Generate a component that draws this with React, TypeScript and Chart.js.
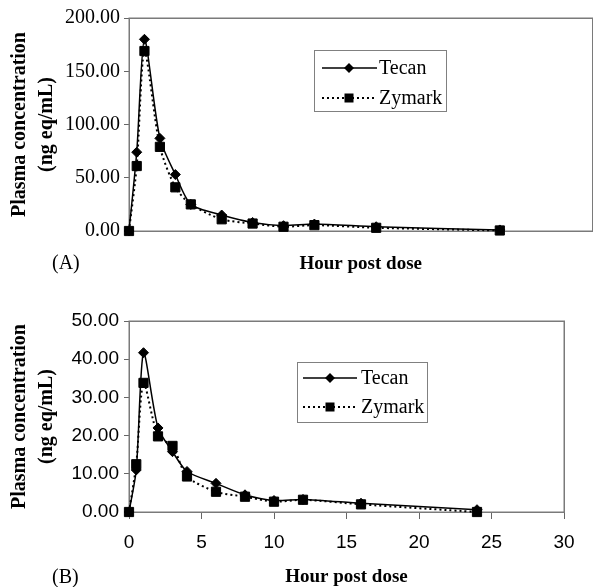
import React, { useEffect, useRef } from "react";
import { Chart, registerables } from "chart.js";

Chart.register(...registerables);

const hours = [0, 0.5, 1, 2, 3, 4, 6, 8, 10, 12, 16, 24];
const tecanA = [0, 74, 180, 87, 53, 25, 15, 8, 5, 6.5, 4, 1];
const zymarkA = [0, 61, 169, 79, 41, 25, 11, 7, 4, 5.5, 3, 0.5];
const tecanB = [0, 11, 41.7, 22, 15.8, 10.6, 7.5, 4.5, 3, 3.3, 2.3, 0.6];
const zymarkB = [0, 12.5, 33.8, 19.8, 17.3, 9.3, 5.3, 4, 2.7, 3.2, 2, 0];
const seriesLabels = ["Tecan", "Zymark"];
const yTicksA = [0, 50, 100, 150, 200];
const yTicksB = [0, 10, 20, 30, 40, 50];
const xTicksB = [0, 5, 10, 15, 20, 25, 30];
const xTitle = "Hour post dose";
const yTitle = ["Plasma concentration", "(ng eq/mL)"];
const panelLabels = ["(A)", "(B)"];

const SERIF = '"Liberation Serif", "Times New Roman", serif';
const SANS = '"Liberation Sans", Arial, sans-serif';

function makeDataset(label: string, ys: number[], dashed: boolean) {
  return {
    label,
    data: hours.map((h, i) => ({ x: h, y: ys[i] })),
    borderColor: "#000",
    backgroundColor: "#000",
    borderWidth: dashed ? 2 : 1.5,
    borderDash: dashed ? [2, 3] : [],
    pointStyle: dashed ? "rect" : "rectRot",
    pointRadius: dashed ? 6.5 : 5,
    pointBorderColor: "#000",
    pointBackgroundColor: "#000",
    pointBorderWidth: 1,
    tension: 0.25,
    clip: false,
    order: dashed ? 0 : 1,
  };
}

function drawDiamond(ctx: CanvasRenderingContext2D, x: number, y: number, r: number) {
  ctx.beginPath();
  ctx.moveTo(x, y - r);
  ctx.lineTo(x + r, y);
  ctx.lineTo(x, y + r);
  ctx.lineTo(x - r, y);
  ctx.closePath();
  ctx.fill();
}

function drawSquare(ctx: CanvasRenderingContext2D, x: number, y: number, s: number) {
  ctx.fillRect(x - s / 2, y - s / 2, s, s);
}

type PanelOpts = {
  legendBox: [number, number, number, number];
  rowY: [number, number];
  lineX: [number, number];
  markerX: number;
  textX: number;
  label: string;
  labelPos: [number, number];
};

function panelPlugin(o: PanelOpts) {
  return {
    id: "panelDecor",
    beforeDatasetsDraw(chart: any) {
      const { ctx, chartArea } = chart;
      ctx.save();
      ctx.strokeStyle = "#7a7a7a";
      ctx.lineWidth = 1.5;
      ctx.strokeRect(
        Math.round(chartArea.left) + 0.25,
        Math.round(chartArea.top) + 0.25,
        chartArea.right - chartArea.left,
        chartArea.bottom - chartArea.top
      );
      ctx.restore();
    },
    afterDraw(chart: any) {
      const ctx: CanvasRenderingContext2D = chart.ctx;
      ctx.save();
      const [bx, by, bw, bh] = o.legendBox;
      ctx.fillStyle = "#fff";
      ctx.fillRect(bx, by, bw, bh);
      ctx.strokeStyle = "#808080";
      ctx.lineWidth = 1;
      ctx.strokeRect(bx + 0.5, by + 0.5, bw, bh);
      ctx.fillStyle = "#000";
      ctx.strokeStyle = "#000";
      ctx.font = `20px ${SERIF}`;
      ctx.textBaseline = "middle";
      ctx.textAlign = "left";
      chart.data.datasets.forEach((ds: any, i: number) => {
        const y = o.rowY[i];
        ctx.beginPath();
        ctx.lineWidth = ds.borderWidth;
        ctx.setLineDash(ds.borderDash || []);
        ctx.moveTo(o.lineX[0], y);
        ctx.lineTo(o.lineX[1], y);
        ctx.stroke();
        ctx.setLineDash([]);
        if (ds.pointStyle === "rectRot") drawDiamond(ctx, o.markerX, y, 5);
        else drawSquare(ctx, o.markerX, y, 9);
        ctx.fillText(ds.label, o.textX, y + 1);
      });
      ctx.font = `20px ${SERIF}`;
      ctx.fillText(o.label, o.labelPos[0], o.labelPos[1]);
      ctx.restore();
    },
  };
}

function fixedTicks(vals: number[]) {
  return (scale: any) => {
    scale.ticks = vals.map((v) => ({ value: v }));
  };
}

function buildConfig(panel: "A" | "B"): any {
  const isA = panel === "A";
  const tecan = isA ? tecanA : tecanB;
  const zymark = isA ? zymarkA : zymarkB;
  const yTicks = isA ? yTicksA : yTicksB;
  const tickFont = isA ? { family: SERIF, size: 20 } : { family: SANS, size: 19 };
  const titleFontX = { family: SERIF, size: 19, weight: "bold" as const };
  const titleFontY = { family: SERIF, size: 20, weight: "bold" as const, lineHeight: 1.35 };

  const xScale: any = isA
    ? {
        type: "linear",
        min: 0,
        max: 30,
        ticks: { display: false },
        grid: { display: false },
        border: { display: false },
        title: { display: true, text: xTitle, color: "#000", font: titleFontX, padding: { top: 0, bottom: 10 } },
        afterFit: (s: any) => {
          s.height = 54;
        },
      }
    : {
        type: "linear",
        min: 0,
        max: 30,
        afterBuildTicks: fixedTicks(xTicksB),
        ticks: { color: "#000", font: { family: SANS, size: 19 }, padding: 12, maxRotation: 0 },
        grid: { drawOnChartArea: false, tickLength: 7, color: "#666" },
        border: { display: false },
        title: { display: true, text: xTitle, color: "#000", font: titleFontX, padding: { top: 0, bottom: 2 } },
        afterFit: (s: any) => {
          s.height = 78;
        },
      };

  const yScale: any = {
    type: "linear",
    min: 0,
    max: yTicks[yTicks.length - 1],
    afterBuildTicks: fixedTicks(yTicks),
    ticks: {
      color: "#000",
      font: tickFont,
      padding: isA ? 4 : 5,
      callback: (v: any) => Number(v).toFixed(2),
    },
    grid: { drawOnChartArea: false, tickLength: 5, color: "#666" },
    border: { display: false },
    title: { display: true, text: yTitle, color: "#000", font: titleFontY, padding: { top: 6, bottom: 0 } },
    afterFit: (s: any) => {
      s.width = 129;
    },
  };

  const decor = isA
    ? panelPlugin({
        legendBox: [314, 50, 132, 61],
        rowY: [68, 98],
        lineX: [322, 377],
        markerX: 349,
        textX: 379,
        label: panelLabels[0],
        labelPos: [52, 264],
      })
    : panelPlugin({
        legendBox: [297, 72, 130, 60],
        rowY: [88, 117],
        lineX: [303, 357],
        markerX: 330,
        textX: 361,
        label: panelLabels[1],
        labelPos: [52, 288],
      });

  return {
    type: "line",
    data: {
      datasets: [makeDataset(seriesLabels[0], tecan, false), makeDataset(seriesLabels[1], zymark, true)],
    },
    options: {
      animation: false,
      responsive: false,
      devicePixelRatio: 1,
      layout: {
        padding: isA ? { top: 18, right: 6, left: 0, bottom: 0 } : { top: 31, right: 29, left: 0, bottom: 0 },
      },
      plugins: { legend: { display: false }, tooltip: { enabled: false } },
      scales: { x: xScale, y: yScale },
    },
    plugins: [decor],
  };
}

function Panel({ which, top, width, height }: { which: "A" | "B"; top: number; width: number; height: number }) {
  const ref = useRef<HTMLCanvasElement | null>(null);
  useEffect(() => {
    if (!ref.current) return;
    const chart = new Chart(ref.current, buildConfig(which));
    return () => chart.destroy();
  }, [which]);
  return (
    <canvas
      ref={ref}
      width={width}
      height={height}
      style={{ position: "absolute", left: 0, top, width, height }}
    />
  );
}

export default function App() {
  return (
    <div
      style={{
        position: "absolute",
        left: 0,
        top: 0,
        width: 593,
        height: 587,
        overflow: "hidden",
        background: "#fff",
      }}
    >
      <Panel which="A" top={0} width={600} height={285} />
      <Panel which="B" top={290} width={593} height={300} />
    </div>
  );
}
